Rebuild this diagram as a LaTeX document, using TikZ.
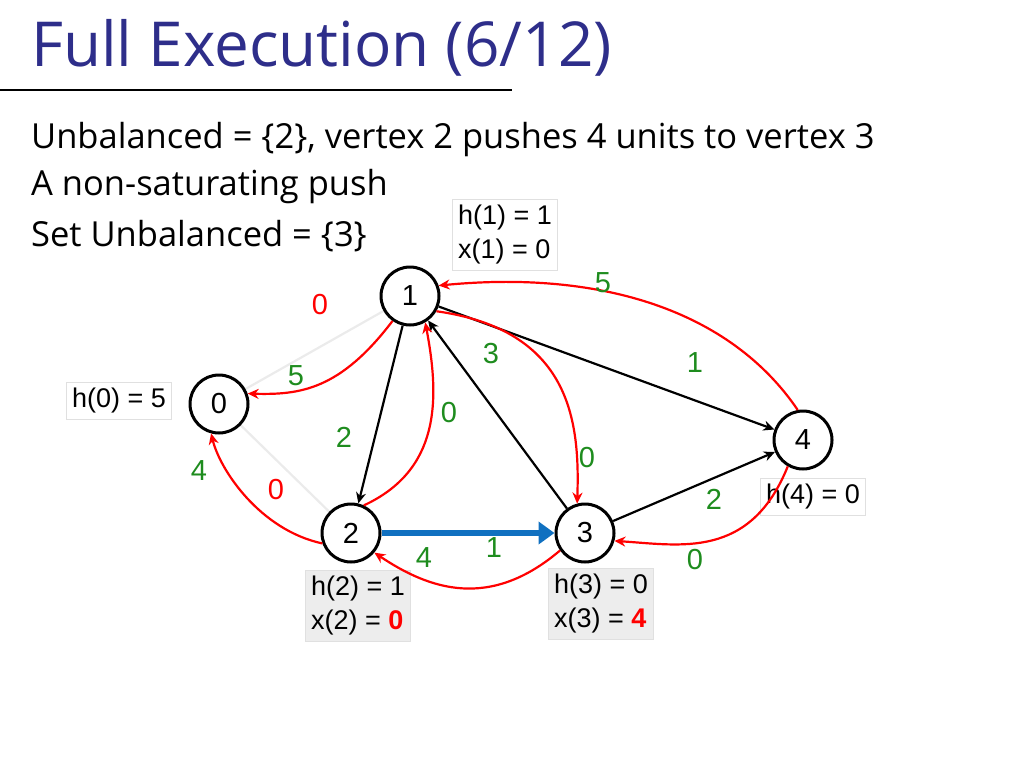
\documentclass[tikz,border=0pt]{standalone}
\usepackage{fontspec}
\setmainfont{Open Sans}
\newfontfamily\arial{Liberation Sans}
\usetikzlibrary{arrows.meta}
\definecolor{ttl}{HTML}{2E2E8A}
\definecolor{gr}{HTML}{1E8C1E}
\definecolor{bl}{HTML}{1070C0}
\begin{document}
\begin{tikzpicture}[x=1pt,y=-1pt,
 v/.style={circle,draw,line width=3pt,minimum size=58pt,inner sep=0,font=\arial\fontsize{29}{31}\selectfont,fill=white},
 bx/.style={draw=black!12,line width=1pt,inner sep=6pt,align=left,font=\arial\fontsize{27}{34}\selectfont},
 gbx/.style={bx,fill=black!7},
 r/.style={draw=red,line width=2.2pt,-{Stealth[length=11pt,width=10pt]}},
 k/.style={draw=black,line width=2.2pt,-{Stealth[length=11pt,width=10pt]}},
 g/.style={text=gr,font=\arial\fontsize{29}{31}\selectfont},
 rl/.style={text=red,font=\arial\fontsize{29}{31}\selectfont}]
\useasboundingbox (0,0) rectangle (1024,768);
\node[anchor=west,text=ttl,font=\fontsize{62}{68}\selectfont,inner sep=0] (t) at (31,48) {Full Execution (6/12)};
\draw[line width=1.3pt] (0,90) -- (512,90);
\node[anchor=west,font=\fontsize{34.5}{40}\selectfont,inner sep=0] (l1) at (31,140) {Unbalanced = \{2\}, vertex 2 pushes 4 units to vertex 3};
\node[anchor=west,font=\fontsize{34.5}{40}\selectfont,inner sep=0] (l2) at (31,187) {A non-saturating push};
\node[anchor=west,font=\fontsize{34.5}{40}\selectfont,inner sep=0] (l3) at (31,236) {Set Unbalanced = \{3\}};
\node[bx] (b1) at (505,235) {h(1) = 1\\x(1) = 0};
\node[bx] (b0) at (119,401) {h(0) = 5};
\node[bx] (b4) at (813,497) {h(4) = 0};
\node[gbx] (b2) at (358,606) {h(2) = 1\\x(2) = \textcolor{red}{\textbf{0}}};
\node[gbx] (b3) at (601,604) {h(3) = 0\\x(3) = \textcolor{red}{\textbf{4}}};
\coordinate (c0) at (219,404);
\coordinate (c1) at (410,296);
\coordinate (c2) at (351,533);
\coordinate (c3) at (585,533);
\coordinate (c4) at (803,440);
\draw[black!8,line width=2.2pt] (c0) -- (c1);
\draw[black!8,line width=2.2pt] (c0) -- (c2);
\node[v] (n0) at (c0) {0};
\node[v] (n1) at (c1) {1};
\node[v] (n2) at (c2) {2};
\node[v] (n3) at (c3) {3};
\node[v] (n4) at (c4) {4};
\draw[k] (n1) -- (n2);
\draw[k] (n1) -- (n4);
\draw[k] (n3) -- (n1);
\draw[k] (n3) -- (n4);
\draw[draw=bl,line width=6pt,-{Triangle[length=16pt,width=22pt]}] (n2) -- (n3);
\draw[r] (n1.235) .. controls (340,390) and (300,395) .. (n0.20);
\draw[r] (n2.200) .. controls (260,530) and (220,470) .. (n0.255);
\draw[r] (n2.65) .. controls (440,470) and (440,400) .. (n1.300);
\draw[r] (n1.330) .. controls (570,330) and (580,420) .. (n3.105);
\draw[r] (n4.100) .. controls (730,310) and (600,270) .. (n1.20);
\draw[r] (n4.240) .. controls (750,560) and (680,545) .. (n3.345);
\draw[r] (n3.215) .. controls (490,610) and (430,590) .. (n2.320);
\node[rl] at (320,305) {0};
\node[rl] at (276,490) {0};
\node[g] at (296,376) {5};
\node[g] at (199,471) {4};
\node[g] at (344,437) {2};
\node[g] at (449,413) {0};
\node[g] at (491,354) {3};
\node[g] at (587,458) {0};
\node[g] at (603,283) {5};
\node[g] at (695,363) {1};
\node[g] at (714,499) {2};
\node[g] at (695,560) {0};
\node[g] at (424,558) {4};
\node[g] at (494,548) {1};
\end{tikzpicture}
\end{document}
